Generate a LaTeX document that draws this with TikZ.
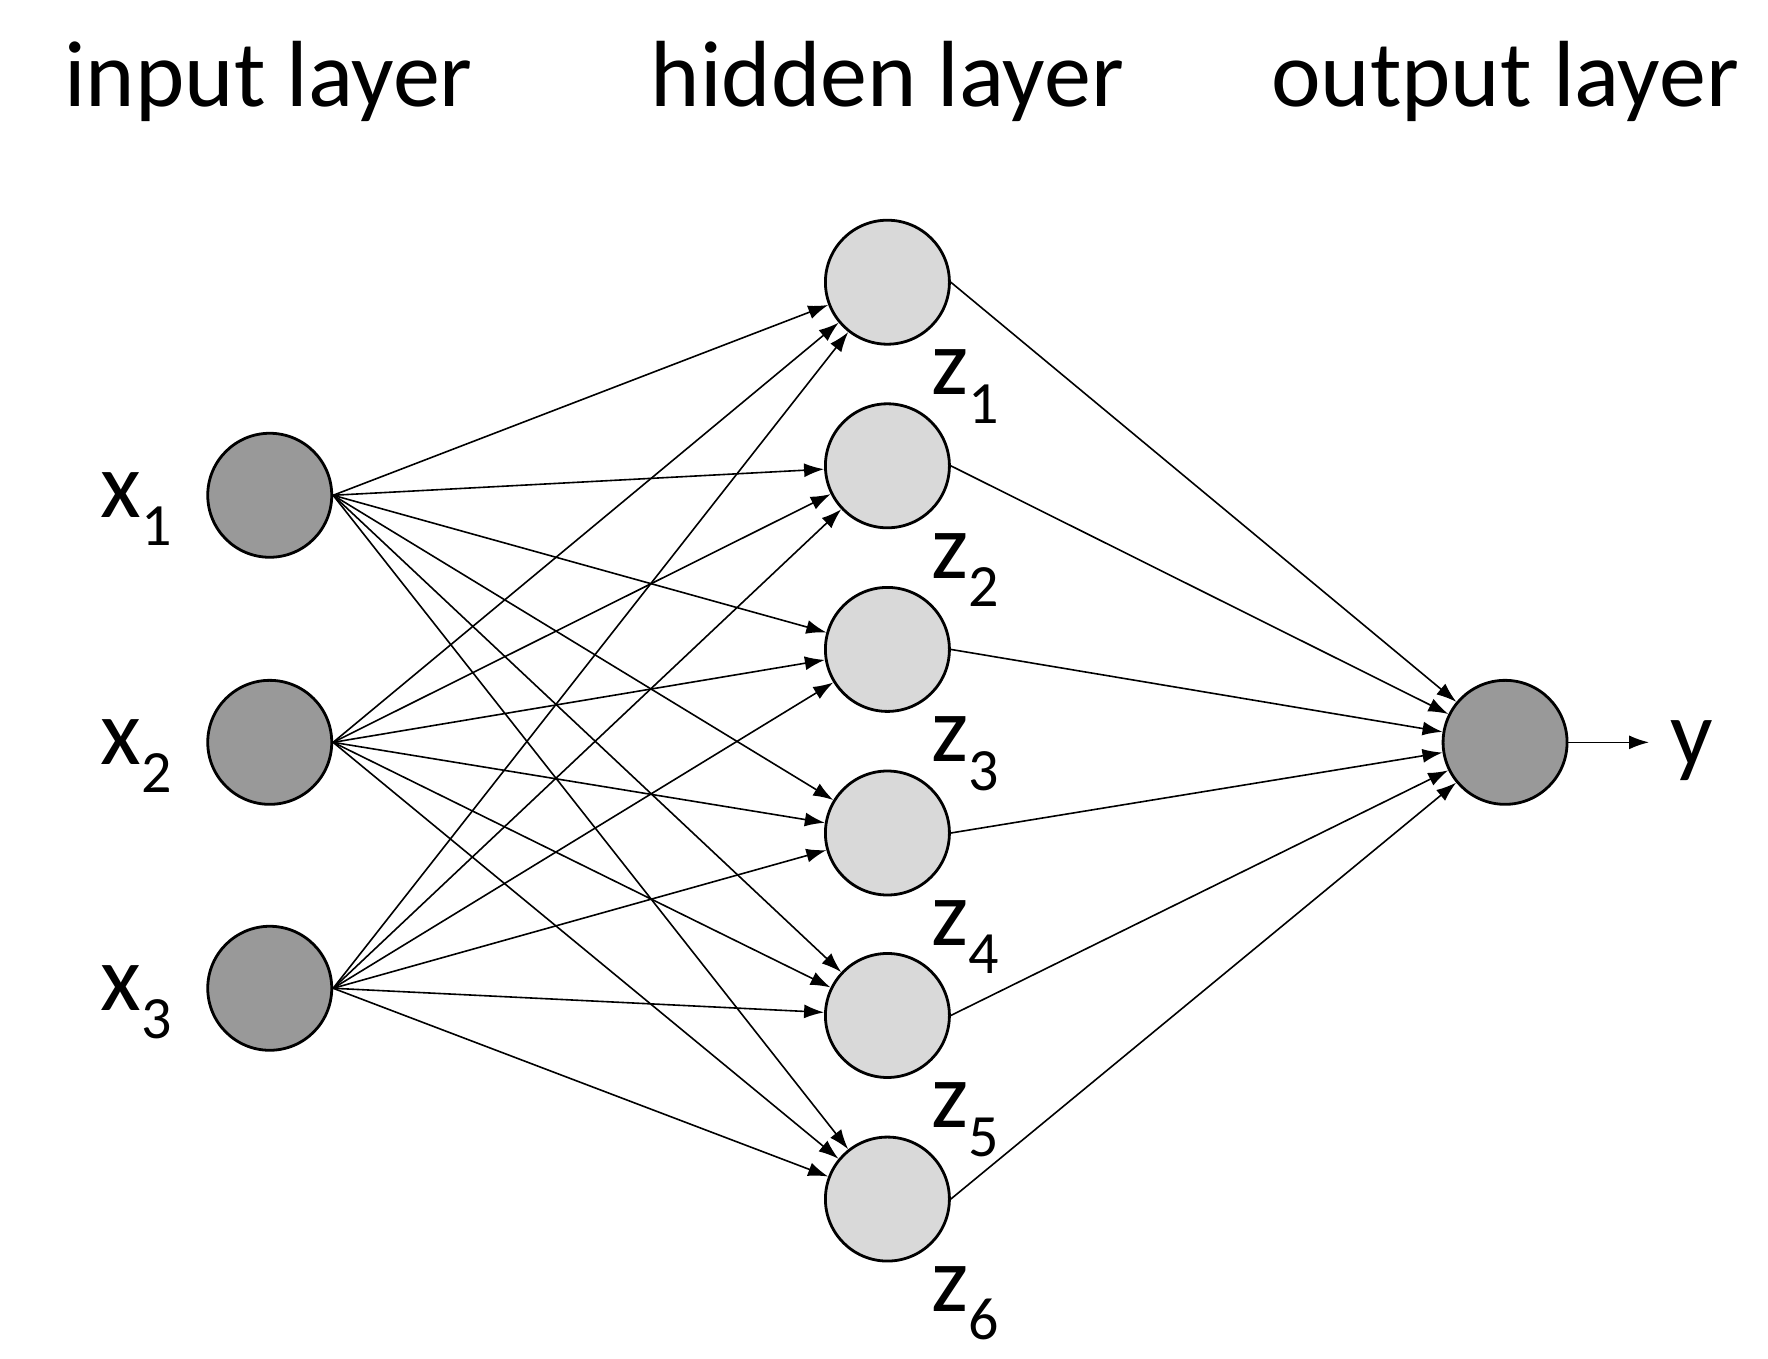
\documentclass[tikz,border=0pt]{standalone}
\usepackage{fontspec}
\setmainfont{Carlito}
\usetikzlibrary{arrows.meta}
\begin{document}
\begin{tikzpicture}[x=1.1333pt,y=-1.1333pt,
  neuron/.style={circle,draw=black,line width=2.8pt,minimum size=124pt,inner sep=0pt},
  dark/.style={neuron,fill=black!40},
  light/.style={neuron,fill=black!15},
  conn/.style={line width=1.6pt,-{Latex[length=20pt,width=14pt]}},
  lab/.style={font=\fontsize{94}{110}\selectfont,inner sep=0pt}]
\newcommand{\sbx}[2]{#1\raisebox{-0.3em}{\fontsize{60}{60}\selectfont #2}}
\useasboundingbox (0,0) rectangle (1560,1198.3);
\node[lab,anchor=base] (t1) at (237,94) {input layer};
\node[lab,anchor=base] (t2) at (783,94) {hidden layer};
\node[lab,anchor=base] (t3) at (1328,94) {output layer};
\foreach \i/\y in {1/437,2/655,3/872}{
  \node[dark] (x\i) at (238,\y) {};
  \node[lab] (lx\i) at (120,\y+12) {\sbx{x}{\i}};
}
\foreach \j/\y in {1/249,2/411,3/573,4/735,5/896,6/1058}{
  \node[light] (h\j) at (783,\y) {};
  \node[lab] (lz\j) at (852,\y+92) {\sbx{z}{\j}};
}
\node[dark] (o) at (1328,655) {};
\coordinate (ye) at (1455,655);
\node[lab] (ly) at (1493,662) {y};
\foreach \i in {1,2,3}{\foreach \j in {1,...,6}{\draw[conn] (x\i.east) -- (h\j);}}
\foreach \j in {1,...,6}{\draw[conn] (h\j.east) -- (o);}
\draw[conn] (o.east) -- (ye);
\end{tikzpicture}
\end{document}
